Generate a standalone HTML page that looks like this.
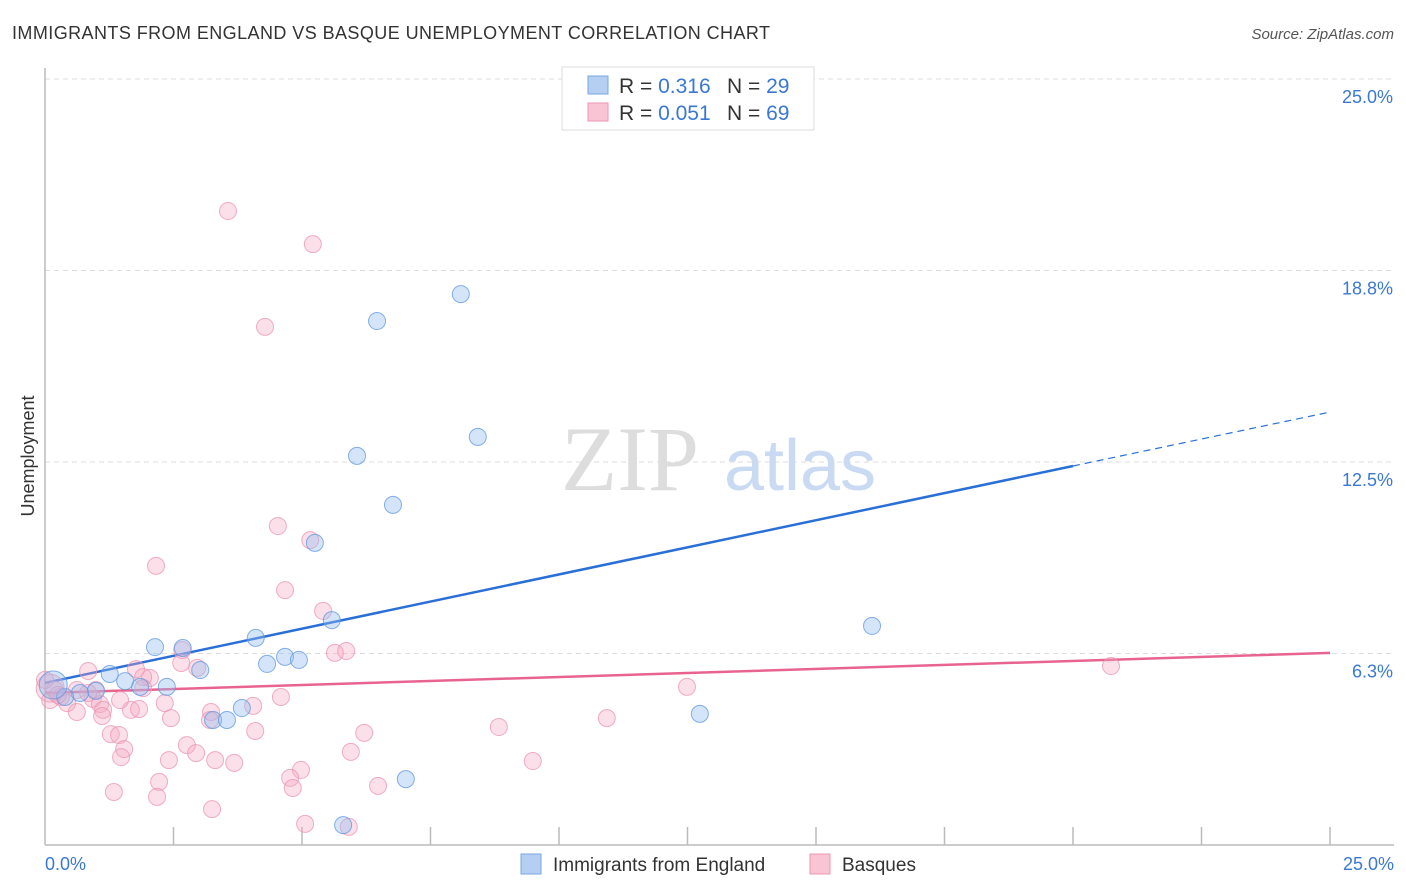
<!DOCTYPE html>
<html><head><meta charset="utf-8"><style>
body{margin:0;background:#fff;font-family:"Liberation Sans",sans-serif;}
svg{display:block}
</style></head><body>
<svg id="chart" width="1406" height="892" xmlns="http://www.w3.org/2000/svg">
<text x="12" y="39" font-size="18" fill="#333" textLength="758" lengthAdjust="spacing">IMMIGRANTS FROM ENGLAND VS BASQUE UNEMPLOYMENT CORRELATION CHART</text>
<text x="1394" y="39" font-size="15" fill="#555" font-style="italic" text-anchor="end">Source: ZipAtlas.com</text>
<g id="grid"></g>
<text x="630" y="490" font-size="92" fill="#ddd" font-family="Liberation Serif,serif" text-anchor="middle">ZIP</text>
<text x="800" y="490" font-size="72" fill="#c9daf2" text-anchor="middle">atlas</text>
<g id="axes"></g>
<g id="lines"></g>
<g id="points"></g>
<text x="34" y="456" font-size="18" fill="#333" text-anchor="middle" transform="rotate(-90 34 456)">Unemployment</text>
<g>
<rect x="562" y="67" width="252" height="63" fill="#fff" stroke="#ddd"/>
<rect x="588" y="76" width="20" height="18" fill="#b5cff3" stroke="#7aa6e3"/>
<rect x="588" y="103" width="20" height="18" fill="#f9c5d4" stroke="#ee97b2"/>
<text x="619" y="93" font-size="21" fill="#333">R = <tspan fill="#3a78d4">0.316</tspan><tspan x="727">N = </tspan><tspan fill="#3a78d4">29</tspan></text>
<text x="619" y="120" font-size="21" fill="#333">R = <tspan fill="#3a78d4">0.051</tspan><tspan x="727">N = </tspan><tspan fill="#3a78d4">69</tspan></text>
</g>
<g>
<rect x="521" y="854" width="20" height="20" fill="#b5cff3" stroke="#7aa6e3"/>
<text x="553" y="871" font-size="19" fill="#333">Immigrants from England</text>
<rect x="810" y="854" width="20" height="20" fill="#f9c5d4" stroke="#ee97b2"/>
<text x="842" y="871" font-size="19" fill="#333">Basques</text>
</g>
</svg>
<script>
const yTicks=[6.25,12.5,18.75,25];
const yTickLabels=["6.3%","12.5%","18.8%","25.0%"];
const xMinorTicks=[2.5,5,7.5,10,12.5,15,17.5,20,22.5,25];
const blueX=[8.09,6.46,8.42,6.07,6.77,5.25,5.58,16.09,4.10,2.14,2.68,3.02,4.32,4.67,4.94,1.26,1.56,2.37,1.85,0.99,0.68,0.39,0.16,3.83,3.27,3.54,12.74,7.02,5.80];
const blueY=[17.98,17.10,13.32,12.70,11.10,9.86,7.34,7.15,6.76,6.46,6.43,5.71,5.91,6.14,6.04,5.58,5.35,5.16,5.16,5.03,4.96,4.83,5.22,4.47,4.08,4.08,4.28,2.15,0.65];
const pinkX=[3.56,5.21,4.28,4.53,5.16,2.16,4.67,5.41,5.64,5.86,2.67,2.65,2.96,20.74,0.84,1.77,2.04,1.91,1.91,0.62,0.19,12.49,4.59,2.33,0.31,0.43,0.93,1.07,1.13,1.67,0.62,1.83,3.23,4.05,2.45,10.93,1.11,4.09,8.83,1.28,1.44,6.21,1.54,2.76,5.95,2.94,1.48,2.41,3.31,3.68,9.49,4.98,4.77,2.22,6.48,4.82,1.34,2.18,3.25,5.06,5.91,0.10,0.10,0.25,0.84,0.0,0.99,3.21,1.46];
const pinkY=[20.69,19.61,16.91,10.41,9.95,9.11,8.32,7.64,6.27,6.33,6.36,5.94,5.78,5.84,5.68,5.74,5.45,5.48,5.12,5.06,5.06,5.16,4.83,4.63,4.83,4.63,4.77,4.60,4.41,4.41,4.34,4.44,4.34,4.54,4.14,4.14,4.21,3.72,3.85,3.62,3.59,3.66,3.13,3.26,3.04,3.00,2.87,2.77,2.77,2.68,2.74,2.45,2.19,2.06,1.93,1.86,1.73,1.57,1.17,0.69,0.59,5.12,4.73,4.90,4.96,5.39,5.06,4.08,4.73];
const blueTrendX=[0,20,25];
const blueTrendY=[5.29,12.37,14.13];
const pinkTrendX=[0,25];
const pinkTrendY=[4.96,6.27];

const NS="http://www.w3.org/2000/svg";
const X0=45,X1=1330,Y0=845,Y1=79;
function sx(v){return X0+(v/25)*(X1-X0);}
function sy(v){return Y0-(v/25)*(Y0-Y1);}
function mk(tag,attrs,parent){const e=document.createElementNS(NS,tag);for(const k in attrs)e.setAttribute(k,attrs[k]);parent.appendChild(e);return e;}
const grid=document.getElementById('grid'),axes=document.getElementById('axes'),lines=document.getElementById('lines'),pts=document.getElementById('points');
yTicks.forEach((t,i)=>{
  const l=mk('line',{x1:X0,x2:1394,y1:sy(t),y2:sy(t),stroke:'#ddd','stroke-dasharray':'5,4'},grid);
  
  
  const tx=mk('text',{x:1393,y:sy(t)+24,'font-size':18,fill:'#3a78d4','text-anchor':'end'},axes);
  tx.textContent=yTickLabels[i];
  
  
});
const ya=mk('line',{x1:X0,x2:X0,y1:68,y2:Y0,stroke:'#bbb','stroke-width':1.5},axes);


const xa=mk('line',{x1:X0,x2:1394,y1:Y0,y2:Y0,stroke:'#bbb','stroke-width':1.5},axes);


xMinorTicks.forEach(t=>{
  const l=mk('line',{x1:sx(t),x2:sx(t),y1:Y0,y2:Y0-18,stroke:'#bbb','stroke-width':1.5},axes);
  
  
});
const xl0=mk('text',{x:45,y:870,'font-size':18,fill:'#3a78d4'},axes);xl0.textContent='0.0%';


const xl1=mk('text',{x:1394,y:870,'font-size':18,fill:'#3a78d4','text-anchor':'end'},axes);xl1.textContent='25.0%';



function dot(x,y,r,fill,stroke,name){
  const c=mk('circle',{cx:sx(x),cy:sy(y),r:r,fill:fill,stroke:stroke,'stroke-width':1,'stroke-opacity':0.75},pts);
  
  
}
pinkX.forEach((x,i)=>dot(x,pinkY[i],(i===61?14:8.5),'rgba(244,165,192,0.35)','#eb94b0','basques-point'));
blueX.forEach((x,i)=>dot(x,blueY[i],(i===22?14:8.5),'rgba(150,190,240,0.4)','#5f95e0','england-point'));

const bl=mk('line',{x1:sx(blueTrendX[0]),y1:sy(blueTrendY[0]),x2:sx(blueTrendX[1]),y2:sy(blueTrendY[1]),stroke:'#2a6fd6','stroke-width':2.5},lines);


const bd=mk('line',{x1:sx(blueTrendX[1]),y1:sy(blueTrendY[1]),x2:sx(blueTrendX[2]),y2:sy(blueTrendY[2]),stroke:'#2a6fd6','stroke-width':1.2,'stroke-dasharray':'7,5'},lines);


const pl=mk('line',{x1:sx(pinkTrendX[0]),y1:sy(pinkTrendY[0]),x2:sx(pinkTrendX[1]),y2:sy(pinkTrendY[1]),stroke:'#e8648f','stroke-width':2.5},lines);


</script>
</body></html>
